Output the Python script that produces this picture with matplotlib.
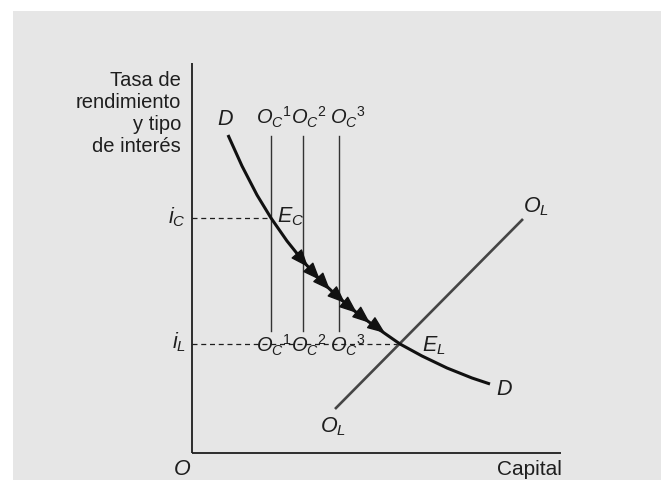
import matplotlib
matplotlib.use("Agg")
import matplotlib.pyplot as plt

plt.rcParams["font.family"] = ["Liberation Sans", "DejaVu Sans"]
plt.rcParams["mathtext.fontset"] = "custom"
plt.rcParams["mathtext.rm"] = "Liberation Sans"
plt.rcParams["mathtext.it"] = "Liberation Sans:italic"

# diagram coordinates: origin at the axes corner, units ~ pixels
axis_x_end = 369
axis_y_end = 390

# demand curve D
d_x = [36, 50, 65, 79, 95, 111, 127, 145, 165, 185, 208, 230, 255, 280, 298]
d_y = [318, 287, 258, 235, 212, 192, 174, 157, 140, 125, 109, 97, 85, 75, 69]

# long-run supply O_L
ol_x = [143, 331]
ol_y = [44, 234]

# short-run supplies O_C1..O_C3
oc_x = [79, 111, 147]
oc_top = 317
oc_bottom = 122
oc_names = ["1", "2", "3"]

# interest levels
i_c, e_c_x = 235, 79
i_l, e_l_x = 109, 208

# arrow tips along D
arrow_x = [116, 128, 138, 153, 165, 178, 193]
arrow_y = [186, 173, 163, 150, 140, 130, 120]
arrow_tail_x = [104, 116, 126, 141, 153, 166, 181]
arrow_tail_y = [200, 186, 176, 161, 150, 140, 129]

ink = "#1e1e1e"

fig = plt.figure(figsize=(6.61, 4.8), dpi=100)
fig.patch.set_facecolor("white")
ax = fig.add_axes([0, 0, 1, 1])
ax.set_xlim(-192, 469)
ax.set_ylim(-27, 453)
ax.axis("off")

# gray panel
ax.add_patch(plt.Rectangle((-179, -27), 648, 469, facecolor="#e6e6e6",
                           edgecolor="none", zorder=0))

# axes
ax.plot([0, 0], [0, axis_y_end], color=ink, lw=1.3, solid_capstyle="butt")
ax.plot([0, axis_x_end], [0, 0], color=ink, lw=1.3, solid_capstyle="butt")

# dashed guides
ax.plot([0, e_c_x], [i_c, i_c], color=ink, lw=0.9, ls=(0, (4, 3)))
ax.plot([0, e_l_x], [i_l, i_l], color=ink, lw=0.9, ls=(0, (4, 3)))

# short-run supply lines
for x in oc_x:
    ax.plot([x, x], [oc_bottom, oc_top], color="#333333", lw=1.0)

# long-run supply
ax.plot(ol_x, ol_y, color="#454545", lw=1.9, solid_capstyle="butt")

# demand
ax.plot(d_x, d_y, color="#111111", lw=2.2, solid_capstyle="butt")

for tx, ty, hx, hy in zip(arrow_tail_x, arrow_tail_y, arrow_x, arrow_y):
    ax.annotate("", xy=(hx, hy), xytext=(tx, ty),
                arrowprops=dict(arrowstyle="-|>,head_length=0.5,head_width=0.2",
                                mutation_scale=22, color="#111111", lw=1,
                                shrinkA=0, shrinkB=0))

fs = 15.5
def lab(x, y, s, **kw):
    kw.setdefault("fontsize", fs)
    ax.text(x, y, s, color=ink, va="baseline", **kw)

ax.text(-11, 382, "Tasa de\nrendimiento\ny tipo\nde interés", fontsize=14.5,
        color=ink, ha="right", va="top", multialignment="right",
        linespacing=1.2)

lab(25, 328, r"$D$")
lab(304, 58, r"$D$")
for x, n in zip([64, 99, 138], oc_names):
    lab(x, 328, r"$O_C{}^{\mathit{%s}}$" % n, fontsize=14.5)
    lab(x, 101, r"$O_C{}^{\mathit{%s}}$" % n, fontsize=14.5)
lab(85, 231, r"$E_C$")
lab(230, 102, r"$E_L$")
lab(-24, 230, r"$i_C$")
lab(-20, 105, r"$i_L$")
lab(331, 241, r"$O_L$")
lab(128, 21, r"$O_L$")
lab(-19, -22, r"$O$")
ax.text(370, -22, "Capital", fontsize=15, color=ink, ha="right",
        va="baseline")

fig.savefig("out.png", dpi=100, facecolor=fig.get_facecolor())
